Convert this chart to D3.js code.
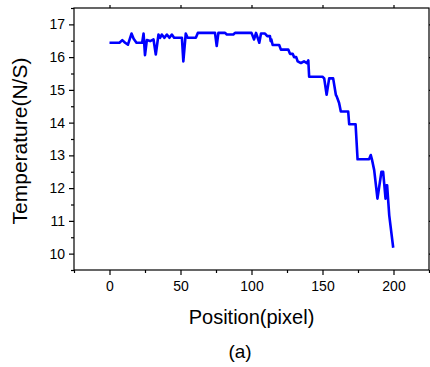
<!DOCTYPE html>
<html>
<head>
<meta charset="utf-8">
<script src="https://cdn.jsdelivr.net/npm/d3@7"></script>
<style>
  body { margin: 0; background: #fff; }
  svg { display: block; font-family: "Liberation Sans", Arial, sans-serif; }
</style>
</head>
<body>
<figure id="chart" style="margin:0"></figure>
<script>
// values
const position = [0, 7, 9, 11, 13, 15.5, 17, 19, 23, 24, 25, 26.3, 28.6, 31, 32.6, 34.5, 35.7, 36.8, 38.7, 40.4,
  42.2, 43.9, 45.5, 51, 52, 53.7, 55, 60.8, 62.2, 74.3, 75.5, 76.7, 81.4, 82.6, 87.2, 88.4, 100, 101.8, 103.2,
  105.5, 106.7, 109.5, 111.1, 113, 113.5, 114, 114.9, 119.5, 120.7, 125.9, 127.1, 129, 130, 131.5, 132.5, 134.8,
  137, 139, 140, 140.6, 150, 151.2, 152.9, 154.7, 157.5, 159.4, 160, 161.7, 162.9, 168.1, 168.8, 173.3, 174.7,
  182.8, 184, 184.8, 186.4, 188.7, 191.5, 192.7, 194.4, 195, 195.5, 197, 199.8];
const temperature = [16.44, 16.44, 16.52, 16.44, 16.38, 16.72, 16.56, 16.44, 16.44, 16.72, 16.06, 16.52, 16.49,
  16.54, 16.08, 16.69, 16.59, 16.69, 16.59, 16.69, 16.59, 16.69, 16.59, 16.59, 15.87, 16.72, 16.59, 16.59, 16.74,
  16.74, 16.34, 16.74, 16.74, 16.69, 16.69, 16.74, 16.74, 16.54, 16.74, 16.44, 16.72, 16.72, 16.64, 16.64, 16.49,
  16.54, 16.37, 16.37, 16.23, 16.23, 16.1, 16.1, 16.0, 16.0, 15.87, 15.82, 15.87, 15.82, 15.9, 15.4, 15.4, 15.35,
  14.85, 15.35, 15.35, 14.85, 14.8, 14.6, 14.34, 14.34, 13.95, 13.95, 12.88, 12.88, 13.01, 12.88, 12.55, 11.68,
  12.5, 12.5, 11.68, 12.09, 12.09, 11.17, 10.18];
const xTicks = [0, 50, 100, 150, 200];
const xMinor = [-25, 25, 75, 125, 175, 225];
const yTicks = [10, 11, 12, 13, 14, 15, 16, 17];
const yMinor = [9.5, 10.5, 11.5, 12.5, 13.5, 14.5, 15.5, 16.5, 17.5];

const width = 430, height = 367;
const margin = { top: 8, right: 1, bottom: 97, left: 74 };

const svg = d3.select("#chart").append("svg")
  .attr("width", width)
  .attr("height", height);

const x = d3.scaleLinear().domain([-25, 225]).range([margin.left, width - margin.right]);
const y = d3.scaleLinear().domain([9.5, 17.5]).range([height - margin.bottom, margin.top]);

// plot frame
svg.append("rect")
  .attr("x", x(-25)).attr("y", y(17.5))
  .attr("width", x(225) - x(-25)).attr("height", y(9.5) - y(17.5))
  .attr("fill", "none").attr("stroke", "#000").attr("stroke-width", 1.2);

function styleAxis(g) {
  g.select(".domain").remove();
  g.selectAll("line").attr("stroke", "#000").attr("stroke-width", 1.2);
  g.selectAll("text").attr("fill", "#000").style("font-size", "14px");
}

// bottom axis, major + minor
svg.append("g")
  .attr("transform", "translate(0," + y(9.5) + ")")
  .call(d3.axisBottom(x).tickValues(xTicks).tickSize(5).tickPadding(6).tickFormat(d3.format("d")))
  .call(styleAxis);
svg.append("g")
  .attr("transform", "translate(0," + y(9.5) + ")")
  .call(d3.axisBottom(x).tickValues(xMinor).tickSize(3).tickFormat(""))
  .call(styleAxis);

// left axis, major + minor
svg.append("g")
  .attr("transform", "translate(" + x(-25) + ",0)")
  .call(d3.axisLeft(y).tickValues(yTicks).tickSize(5).tickPadding(4).tickFormat(d3.format("d")))
  .call(styleAxis);
svg.append("g")
  .attr("transform", "translate(" + x(-25) + ",0)")
  .call(d3.axisLeft(y).tickValues(yMinor).tickSize(3).tickFormat(""))
  .call(styleAxis);

// top and right: ticks only
svg.append("g")
  .attr("transform", "translate(0," + y(17.5) + ")")
  .call(d3.axisTop(x).tickValues(xTicks).tickSize(3).tickFormat(""))
  .call(styleAxis);
svg.append("g")
  .attr("transform", "translate(" + x(225) + ",0)")
  .call(d3.axisRight(y).tickValues(yTicks).tickSize(3).tickFormat(""))
  .call(styleAxis);

// the curve
const line = d3.line()
  .x((d, i) => x(position[i]))
  .y((d, i) => y(temperature[i]));

svg.append("path")
  .datum(position)
  .attr("d", line)
  .attr("fill", "none")
  .attr("stroke", "#0000ff")
  .attr("stroke-width", 2.6)
  .attr("stroke-linejoin", "round");

// titles
svg.append("text")
  .attr("x", (x(-25) + x(225)) / 2)
  .attr("y", 324)
  .attr("text-anchor", "middle")
  .style("font-size", "20px")
  .text("Position(pixel)");

svg.append("text")
  .attr("transform", "translate(27,141) rotate(-90)")
  .attr("text-anchor", "middle")
  .style("font-size", "21px")
  .text("Temperature(N/S)");

svg.append("text")
  .attr("x", 240)
  .attr("y", 358)
  .attr("text-anchor", "middle")
  .style("font-size", "19px")
  .text("(a)");
</script>
</body>
</html>
